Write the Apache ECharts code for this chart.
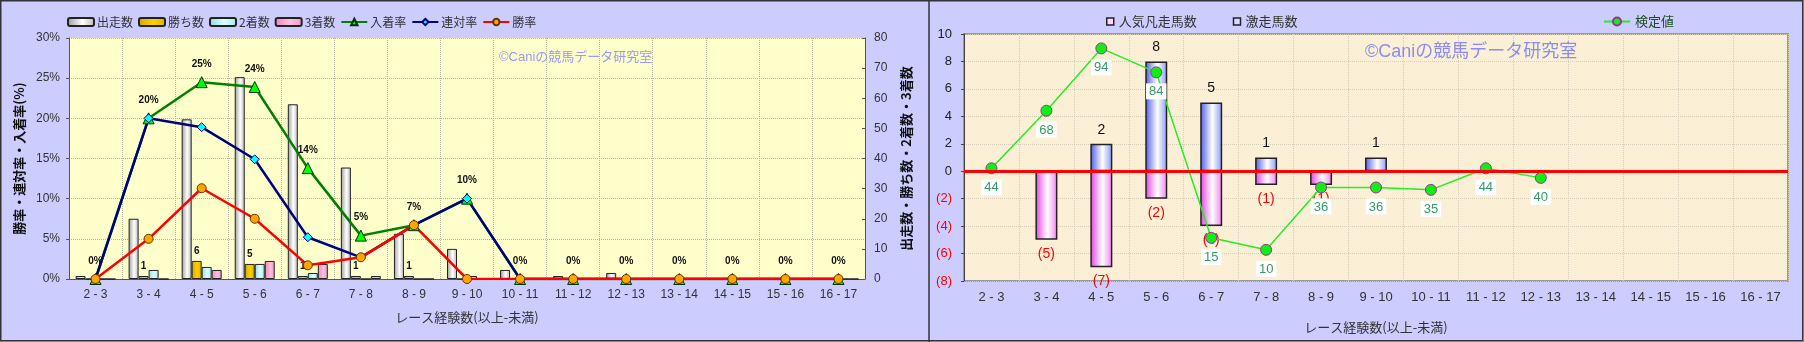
<!DOCTYPE html>
<html><head><meta charset="utf-8">
<script src="https://cdn.jsdelivr.net/npm/echarts@6/dist/echarts.min.js"></script>
<style>html,body{margin:0;padding:0;background:#ccccff}#c{width:1804px;height:342px}</style>
</head><body><div id="c"></div>
<script>
// ---- data ----
const categories = ['2 - 3','3 - 4','4 - 5','5 - 6','6 - 7','7 - 8','8 - 9','9 - 10','10 - 11','11 - 12','12 - 13','13 - 14','14 - 15','15 - 16','16 - 17'];
// left chart counts
const starts  = [1,20,53,67,58,37,15,10,3,1,2,0,0,0,0];
const wins    = [0,1,6,5,1,1,1,0,0,0,0,0,0,0,0];
const seconds = [0,3,4,5,2,0,0,1,0,0,0,0,0,0,0];
const thirds  = [0,0,3,6,5,1,0,0,0,0,0,0,0,0,0];
// left chart rates (%)
const placeRate    = [0,20,24.5,23.9,13.8,5.4,6.7,10,0,0,0,0,0,0,0];
const quinellaRate = [0,20,18.9,14.9,5.2,2.7,6.7,10,0,0,0,0,0,0,0];
const winRate      = [0,5,11.3,7.5,1.7,2.7,6.7,0,0,0,0,0,0,0,0];
// right chart
const popularFlops = [0,-5,-7,-2,-4,-1,-1,0,0,0,0,0,0,0,0];
const upsets       = [0,0,2,8,5,1,0,1,0,0,0,0,0,0,0];
const testValues   = [44,68,94,84,15,10,36,36,35,44,40,null,null,null,null];

const FONT = '"Liberation Sans","Noto Sans CJK JP",sans-serif';
const JFONT = '"Noto Sans CJK JP","Liberation Sans",sans-serif';

function hGrad(a,b,c){return new echarts.graphic.LinearGradient(0,0,1,0,[{offset:0,color:a},{offset:0.55,color:b},{offset:1,color:c}]);}

const chart = echarts.init(document.getElementById('c'), null, {renderer:'canvas'});
const option = {
  animation:false,
  backgroundColor:'#ccccff',
  textStyle:{fontFamily:FONT},
  grid:[
    {left:69, top:38, width:796, height:241, show:true, backgroundColor:'#ffffcc', borderWidth:0},
    {left:964, top:34, width:824, height:247, show:true, backgroundColor:'#fbf0d6', borderColor:'#9a9a9a', borderWidth:2}
  ],
  legend:[
    {left:62, top:11, itemWidth:26, itemHeight:8, itemGap:5,
     textStyle:{fontSize:12, color:'#333', fontFamily:JFONT, padding:[0,0,0,-2]},
     data:['出走数','勝ち数','2着数','3着数','入着率','連対率','勝率']},
    {left:1101, top:10, itemWidth:7, itemHeight:7, itemGap:36,
     textStyle:{fontSize:13, color:'#333', fontFamily:JFONT},
     data:[{name:'人気凡走馬数', icon:'rect', itemStyle:{color:'#ffd6ff', borderColor:'#222', borderWidth:1.5}},
           {name:'激走馬数', icon:'rect', itemStyle:{color:'#d6dcff', borderColor:'#222', borderWidth:1.5}}]},
    {left:1598, top:10, itemWidth:26, itemHeight:10,
     textStyle:{fontSize:13, color:'#1e4e1e', fontFamily:JFONT},
     data:['検定値']}
  ],
  xAxis:[
    {type:'category', gridIndex:0, data:categories,
     axisLine:{lineStyle:{color:'#555'}}, axisTick:{show:false},
     axisLabel:{fontSize:12, color:'#333', margin:10},
     splitLine:{show:true, lineStyle:{color:'#b5b5a0', type:'dotted'}},
     name:'レース経験数(以上-未満)', nameLocation:'middle', nameGap:32,
     nameTextStyle:{fontSize:13, color:'#333', fontFamily:JFONT}},
    {type:'category', gridIndex:1, data:categories,
     axisLine:{lineStyle:{color:'#9a9a9a'}}, axisTick:{show:false},
     axisLabel:{fontSize:13, color:'#333', margin:10},
     splitLine:{show:true, lineStyle:{color:'#d5cdb8', type:'dotted'}},
     name:'レース経験数(以上-未満)', nameLocation:'middle', nameGap:40,
     nameTextStyle:{fontSize:13, color:'#333', fontFamily:JFONT}}
  ],
  yAxis:[
    {type:'value', gridIndex:0, min:0, max:30, interval:5, position:'left',
     axisLine:{show:true, lineStyle:{color:'#555'}}, axisTick:{show:true, length:3, lineStyle:{color:'#555'}},
     axisLabel:{formatter:'{value}%', fontSize:12, color:'#333', margin:9},
     splitLine:{show:true, lineStyle:{color:'#b5b5a0', type:'dotted'}},
     name:'勝率・連対率・入着率(%)', nameLocation:'middle', nameRotate:90, nameGap:43,
     nameTextStyle:{fontSize:13, fontWeight:'bold', color:'#111', fontFamily:JFONT}},
    {type:'value', gridIndex:0, min:0, max:80, interval:10, position:'right',
     axisLine:{show:true, lineStyle:{color:'#555'}}, axisTick:{show:true, length:3, inside:true, lineStyle:{color:'#555'}},
     axisLabel:{fontSize:12, color:'#333', margin:9},
     splitLine:{show:false},
     name:'出走数・勝ち数・2着数・3着数', nameLocation:'middle', nameRotate:90, nameGap:35,
     nameTextStyle:{fontSize:13, fontWeight:'bold', color:'#111', fontFamily:JFONT}},
    {type:'value', gridIndex:1, min:-8, max:10, interval:2, position:'left',
     axisLine:{show:true, lineStyle:{color:'#444'}}, axisTick:{show:true, length:3, lineStyle:{color:'#444'}},
     axisLabel:{fontSize:13, margin:12,
       formatter:function(v){return v<0?'('+(-v)+')':String(v);},
       color:function(v){return Number(v)<0?'#ff0000':'#222';}},
     splitLine:{show:true, lineStyle:{color:'#d5cdb8', type:'dotted'}}},
    {type:'value', gridIndex:1, min:-3, max:100, show:false, splitLine:{show:false}}
  ],
  graphic:[
    {type:'rect', z:100, silent:true, shape:{x:0.75,y:0.75,width:1802,height:340}, style:{fill:null, stroke:'#333', lineWidth:1.5}},
    {type:'line', z:100, silent:true, shape:{x1:929,y1:0,x2:929,y2:342}, style:{stroke:'#333', lineWidth:1.5}},
    {type:'text', z:10, silent:true, x:499, y:57, style:{text:'©Caniの競馬データ研究室', fill:'#9a9aee', fontSize:13, fontFamily:FONT, verticalAlign:'middle', align:'left'}},
    {type:'text', z:10, silent:true, x:1365, y:52, style:{text:'©Caniの競馬データ研究室', fill:'#8c8cf0', fontSize:18, fontFamily:FONT, verticalAlign:'middle', align:'left'}}
  ],
  series:[
    {type:'bar', name:'出走数', xAxisIndex:0, yAxisIndex:1, data:starts, barWidth:10, barGap:'0%',
     itemStyle:{color:hGrad('#9a9a9a','#ffffff','#b8b8b8'), borderColor:'#222', borderWidth:1}},
    {type:'bar', name:'勝ち数', xAxisIndex:0, yAxisIndex:1, data:wins, barWidth:10, barGap:'0%',
     itemStyle:{color:hGrad('#d9a400','#ffd000','#e0b000'), borderColor:'#222', borderWidth:1},
     label:{show:true, position:'top', distance:5, fontSize:10, fontWeight:'bold', color:'#111',
       formatter:function(p){return p.value>0?String(p.value):'';}}},
    {type:'bar', name:'2着数', xAxisIndex:0, yAxisIndex:1, data:seconds, barWidth:10, barGap:'0%',
     itemStyle:{color:hGrad('#8fdcdc','#d8ffff','#a8e8e8'), borderColor:'#222', borderWidth:1}},
    {type:'bar', name:'3着数', xAxisIndex:0, yAxisIndex:1, data:thirds, barWidth:10, barGap:'0%',
     itemStyle:{color:hGrad('#e888b8','#ffc0e0','#f098c8'), borderColor:'#222', borderWidth:1}},
    {type:'line', name:'入着率', xAxisIndex:0, yAxisIndex:0, data:placeRate,
     symbol:'triangle', symbolSize:11, showAllSymbol:true,
     lineStyle:{color:'#008000', width:2.5},
     itemStyle:{color:'#00ff00', borderColor:'#003300', borderWidth:1},
     label:{show:true, position:'top', distance:7, fontSize:10, fontWeight:'bold', color:'#111',
       formatter:function(p){return Math.round(p.value)+'%';}}},
    {type:'line', name:'連対率', xAxisIndex:0, yAxisIndex:0, data:quinellaRate,
     symbol:'diamond', symbolSize:9, showAllSymbol:true,
     lineStyle:{color:'#000080', width:2.5},
     itemStyle:{color:'#00ffff', borderColor:'#000080', borderWidth:1}},
    {type:'line', name:'勝率', xAxisIndex:0, yAxisIndex:0, data:winRate,
     symbol:'circle', symbolSize:9, showAllSymbol:true,
     lineStyle:{color:'#ff0000', width:2.5},
     itemStyle:{color:'#ffa500', borderColor:'#663300', borderWidth:1}},

    {type:'bar', name:'人気凡走馬数', xAxisIndex:1, yAxisIndex:2, data:popularFlops, barWidth:22, barGap:'-100%',
     itemStyle:{color:hGrad('#e040e0','#ffffff','#f080f0'), borderColor:'#222', borderWidth:1.5},
     label:{show:true, position:'bottom', distance:7, fontSize:14, color:'#ff0000',
       formatter:function(p){return p.value<0?'('+(-p.value)+')':'';}}},
    {type:'bar', name:'激走馬数', xAxisIndex:1, yAxisIndex:2, data:upsets, barWidth:22, barGap:'-100%',
     itemStyle:{color:hGrad('#4a5ae8','#ffffff','#8898f4'), borderColor:'#222', borderWidth:1.5},
     label:{show:true, position:'top', distance:7, fontSize:14, color:'#111',
       formatter:function(p){return p.value>0?String(p.value):'';}},
     markLine:{silent:true, symbol:'none', label:{show:false},
       lineStyle:{color:'#ff0000', width:3, type:'solid'}, data:[{yAxis:0}]}},
    {type:'line', name:'検定値', xAxisIndex:1, yAxisIndex:3, data:testValues,
     symbol:'circle', symbolSize:11, showAllSymbol:true, connectNulls:false,
     lineStyle:{color:'#22ee22', width:1.5},
     itemStyle:{color:'#11ee11', borderColor:'#993399', borderWidth:1},
     label:{show:true, position:'bottom', distance:5, fontSize:13, color:'#339966',
       backgroundColor:'#ffffff', padding:[2,3,1,3],
       formatter:function(p){return String(p.value);}}}
  ]
};
chart.setOption(option);
</script>
</body></html>
